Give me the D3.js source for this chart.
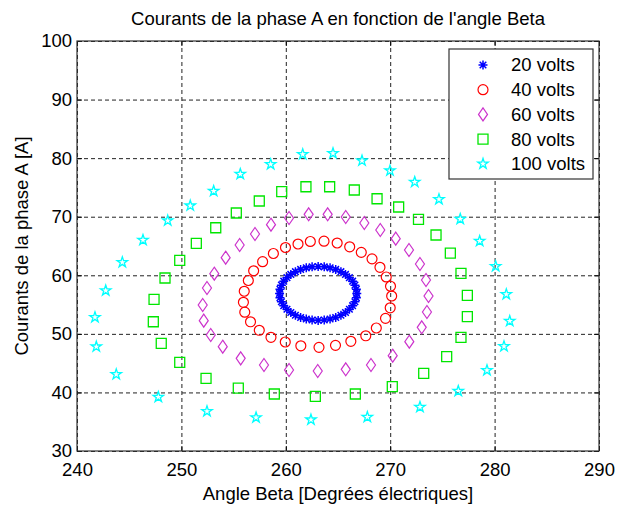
<!DOCTYPE html>
<html>
<head>
<meta charset="utf-8">
<script src="https://cdn.jsdelivr.net/npm/d3@7"></script>
<style>
  body { margin: 0; background: #fff; }
  text { font-family: Arial, "Liberation Sans", sans-serif; fill: #000; }
</style>
</head>
<body>
<div id="vis"></div>
<script>
// tick values
const xTicks = [240, 250, 260, 270, 280, 290];
const yTicks = [30, 40, 50, 60, 70, 80, 90, 100];
const seriesNames = ['20 volts', '40 volts', '60 volts', '80 volts', '100 volts'];

// 20 volts (blue *)
const beta20 = [266.8, 266.76, 266.62, 266.4, 266.09, 265.72, 265.28, 264.78, 264.24, 263.68,
  263.1, 262.52, 261.96, 261.42, 260.92, 260.48, 260.11, 259.8, 259.58, 259.44,
  259.4, 259.44, 259.58, 259.8, 260.11, 260.48, 260.92, 261.42, 261.96, 262.52,
  263.1, 263.68, 264.24, 264.78, 265.28, 265.72, 266.09, 266.4, 266.62, 266.76];
const cur20 = [56.9, 57.62, 58.32, 58.99, 59.6, 60.15, 60.62, 61.0, 61.27, 61.44,
  61.5, 61.44, 61.27, 61.0, 60.62, 60.15, 59.6, 58.99, 58.32, 57.62,
  56.9, 56.18, 55.48, 54.81, 54.2, 53.65, 53.18, 52.8, 52.53, 52.36,
  52.3, 52.36, 52.53, 52.8, 53.18, 53.65, 54.2, 54.81, 55.48, 56.18];

// 40 volts (red o)
const beta40 = [259.97, 261.17, 262.35, 263.66, 264.92, 266.12, 267.23, 268.26, 269.02, 269.62,
  270.03, 270.14, 270.0, 269.55, 268.67, 267.66, 266.23, 264.76, 263.18, 261.44,
  259.95, 258.58, 257.46, 256.62, 256.07, 255.94, 256.02, 256.41, 256.92, 257.78, 258.81];
const cur40 = [64.74, 65.34, 65.77, 65.82, 65.51, 64.86, 63.92, 62.81, 61.36, 59.71,
  58.13, 56.46, 54.45, 52.65, 51.0, 49.67, 48.73, 48.04, 47.7, 47.96,
  48.61, 49.41, 50.61, 52.06, 53.7, 55.39, 57.27, 59.11, 60.77, 62.32, 63.72];

// 60 volts (magenta diamonds)
const beta60 = [257.05, 258.58, 260.31, 262.19, 264.01, 265.74, 267.52, 269.05, 270.53, 271.8,
  272.85, 273.43, 273.67, 273.52, 273.02, 271.83, 270.24, 268.16, 265.74, 263.06,
  260.31, 257.91, 255.68, 253.96, 252.81, 252.14, 252.04, 252.45, 253.15, 254.24, 255.58];
const cur60 = [67.05, 68.64, 69.78, 70.41, 70.41, 69.95, 68.93, 67.73, 66.25, 64.32,
  61.93, 59.19, 56.46, 53.73, 51.12, 48.66, 46.27, 44.68, 43.95, 43.66,
  43.83, 44.68, 45.82, 47.81, 49.8, 52.25, 54.93, 57.83, 60.27, 63.0, 65.17];

// 80 volts (green squares)
const beta80 = [257.46, 259.61, 261.93, 264.2, 266.56, 268.74, 270.81, 272.71, 274.39, 275.76,
  276.78, 277.39, 277.39, 276.78, 275.41, 273.21, 270.2, 266.66, 262.83, 258.9,
  255.45, 252.36, 249.84, 248.07, 247.31, 247.38, 248.43, 249.84, 251.43, 253.29, 255.26];
const cur80 = [72.68, 74.27, 75.12, 75.12, 74.56, 73.07, 71.66, 69.56, 66.88, 63.8,
  60.34, 56.58, 52.93, 49.41, 46.1, 43.26, 40.98, 39.73, 39.34, 39.73,
  40.75, 42.41, 45.14, 48.39, 52.07, 55.9, 59.54, 62.56, 65.46, 68.12, 70.63];

// 100 volts (cyan pentagrams)
const beta100 = [258.55, 261.62, 264.52, 267.3, 269.98, 272.35, 274.67, 276.71, 278.57, 280.1,
  281.12, 281.45, 280.9, 279.27, 276.52, 272.85, 267.81, 262.41, 257.15, 252.45,
  247.79, 243.76, 241.85, 241.72, 242.75, 244.34, 246.32, 248.69, 250.85, 253.09, 255.64];
const cur100 = [78.95, 80.66, 80.83, 79.56, 77.86, 75.93, 72.97, 69.61, 65.85, 61.53,
  56.75, 52.19, 47.87, 43.78, 40.24, 37.51, 35.8, 35.34, 35.72, 36.78,
  39.22, 43.09, 47.81, 52.83, 57.4, 62.22, 66.02, 69.32, 71.88, 74.39, 77.29];

// margins so the axes box lands where it is in the picture
const margin = {top: 41, right: 31, bottom: 57, left: 77};
const width = 630 - margin.left - margin.right;
const height = 508 - margin.top - margin.bottom;

const root = d3.select('#vis')
  .append('svg')
  .attr('width', 630)
  .attr('height', 508);

const svg = root.append('g')
  .attr('transform', `translate(${margin.left},${margin.top})`);

const xScale = d3.scaleLinear().domain([240, 290]).range([0, width]);
const yScale = d3.scaleLinear().domain([30, 100]).range([height, 0]);

// marker shapes, matlab style
const shapes = {
  star: 'M-4.5,0H4.5M0,-4.5V4.5M-3.3,-3.3L3.3,3.3M-3.3,3.3L3.3,-3.3',
  circle: d3.symbol(d3.symbolCircle, 78)(),
  diamond: 'M0,-6.5L4.5,0L0,6.5L-4.5,0Z',
  square: 'M-5,-5H5V5H-5Z',
  penta: d3.symbol(d3.symbolStar, 34)()
};

const series = [
  {name: seriesNames[0], xs: beta20, ys: cur20, shape: 'star', color: '#0000ff', lw: 1.5},
  {name: seriesNames[1], xs: beta40, ys: cur40, shape: 'circle', color: '#ff0000', lw: 1.2},
  {name: seriesNames[2], xs: beta60, ys: cur60, shape: 'diamond', color: '#cc33cc', lw: 1.2},
  {name: seriesNames[3], xs: beta80, ys: cur80, shape: 'square', color: '#00e600', lw: 1.3},
  {name: seriesNames[4], xs: beta100, ys: cur100, shape: 'penta', color: '#00ffff', lw: 1.3}
];

// dashed grid
svg.append('g')
  .attr('class', 'grid')
  .attr('transform', `translate(0,${height})`)
  .call(d3.axisBottom(xScale).tickValues(xTicks).tickSize(-height).tickFormat(''));
svg.append('g')
  .attr('class', 'grid')
  .call(d3.axisLeft(yScale).tickValues(yTicks).tickSize(-width).tickFormat(''));
svg.selectAll('.grid .domain').remove();
svg.selectAll('.grid line')
  .attr('stroke', '#222')
  .attr('stroke-dasharray', '4,3');

// points
series.forEach((s, i) => {
  svg.selectAll('.pt' + i)
    .data(d3.zip(s.xs, s.ys))
    .join('path')
    .attr('class', 'pt' + i)
    .attr('transform', d => `translate(${xScale(d[0])},${yScale(d[1])})`)
    .attr('d', shapes[s.shape])
    .attr('fill', 'none')
    .attr('stroke', s.color)
    .attr('stroke-width', s.lw);
});

// axes with ticks pointing inward on all four sides
const fontSize = 18.5;
const xAxis = svg.append('g')
  .attr('transform', `translate(0,${height})`)
  .call(d3.axisBottom(xScale).tickValues(xTicks).tickSizeInner(-5).tickSizeOuter(0).tickPadding(12));
const yAxis = svg.append('g')
  .call(d3.axisLeft(yScale).tickValues(yTicks).tickSizeInner(-5).tickSizeOuter(0).tickPadding(5));
svg.append('g')
  .call(d3.axisTop(xScale).tickValues(xTicks).tickSizeInner(-5).tickSizeOuter(0).tickFormat(''));
svg.append('g')
  .attr('transform', `translate(${width},0)`)
  .call(d3.axisRight(yScale).tickValues(yTicks).tickSizeInner(-5).tickSizeOuter(0).tickFormat(''));
svg.selectAll('.domain').remove();
[xAxis, yAxis].forEach(a => a.selectAll('text')
  .style('font-size', fontSize + 'px')
  .style('font-family', 'Arial, "Liberation Sans", sans-serif')
  .attr('fill', '#000'));

// box
svg.append('rect')
  .attr('width', width)
  .attr('height', height)
  .attr('fill', 'none')
  .attr('stroke', '#333')
  .attr('stroke-width', 1.2);

// title and axis labels
root.append('text')
  .attr('x', margin.left + width / 2)
  .attr('y', 25)
  .attr('text-anchor', 'middle')
  .style('font-size', fontSize + 'px')
  .text("Courants de la phase A en fonction de l'angle Beta");

root.append('text')
  .attr('x', margin.left + width / 2)
  .attr('y', 500)
  .attr('text-anchor', 'middle')
  .style('font-size', fontSize + 'px')
  .text('Angle Beta [Degrées électriques]');

root.append('text')
  .attr('transform', `translate(28,${margin.top + height / 2}) rotate(-90)`)
  .attr('text-anchor', 'middle')
  .style('font-size', fontSize + 'px')
  .text('Courants de la phase A [A]');

// legend
const legend = svg.append('g').attr('transform', `translate(${width - 150},8)`);
legend.append('rect')
  .attr('width', 144)
  .attr('height', 130)
  .attr('fill', '#fff')
  .attr('stroke', '#333')
  .attr('stroke-width', 1.2);
series.forEach((s, i) => {
  const row = legend.append('g').attr('transform', `translate(0,${16 + i * 24.7})`);
  row.append('path')
    .attr('transform', 'translate(34,0)')
    .attr('d', shapes[s.shape])
    .attr('fill', 'none')
    .attr('stroke', s.color)
    .attr('stroke-width', s.lw);
  row.append('text')
    .attr('x', 62)
    .attr('dy', '0.35em')
    .style('font-size', fontSize + 'px')
    .text(s.name);
});
</script>
</body>
</html>
